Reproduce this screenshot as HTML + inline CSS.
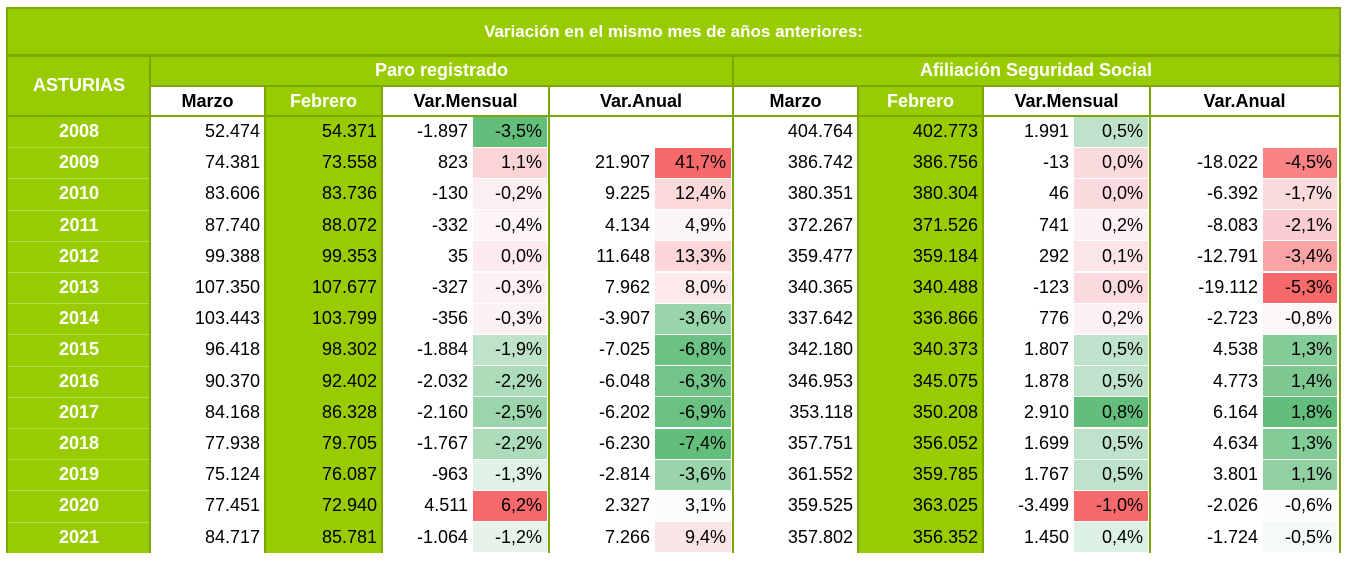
<!DOCTYPE html>
<html><head><meta charset="utf-8">
<style>
body{margin:0;width:1352px;height:568px;background:#fff;overflow:hidden;font-family:"Liberation Sans",sans-serif;}
#t{position:absolute;left:0;top:0;width:1352px;height:568px;}
.c{position:absolute;box-sizing:border-box;display:flex;align-items:center;font-size:18px;white-space:nowrap;}
.r{justify-content:flex-end;padding-right:5px;color:#000;}
.h{justify-content:center;font-weight:bold;}
</style></head><body>
<div id="t"></div>
<script>
const years=[2008,2009,2010,2011,2012,2013,2014,2015,2016,2017,2018,2019,2020,2021];
const paroMarzo=["52.474","74.381","83.606","87.740","99.388","107.350","103.443","96.418","90.370","84.168","77.938","75.124","77.451","84.717"];
const paroFeb=["54.371","73.558","83.736","88.072","99.353","107.677","103.799","98.302","92.402","86.328","79.705","76.087","72.940","85.781"];
const paroVarM=["-1.897","823","-130","-332","35","-327","-356","-1.884","-2.032","-2.160","-1.767","-963","4.511","-1.064"];
const paroVarMPct=[-3.5,1.1,-0.2,-0.4,0.0,-0.3,-0.3,-1.9,-2.2,-2.5,-2.2,-1.3,6.2,-1.2];
const paroVarA=["","21.907","9.225","4.134","11.648","7.962","-3.907","-7.025","-6.048","-6.202","-6.230","-2.814","2.327","7.266"];
const paroVarAPct=[null,41.7,12.4,4.9,13.3,8.0,-3.6,-6.8,-6.3,-6.9,-7.4,-3.6,3.1,9.4];
const afMarzo=["404.764","386.742","380.351","372.267","359.477","340.365","337.642","342.180","346.953","353.118","357.751","361.552","359.525","357.802"];
const afFeb=["402.773","386.756","380.304","371.526","359.184","340.488","336.866","340.373","345.075","350.208","356.052","359.785","363.025","356.352"];
const afVarM=["1.991","-13","46","741","292","-123","776","1.807","1.878","2.910","1.699","1.767","-3.499","1.450"];
const afVarMPct=[0.5,0.0,0.0,0.2,0.1,0.0,0.2,0.5,0.5,0.8,0.5,0.5,-1.0,0.4];
const afVarA=["","-18.022","-6.392","-8.083","-12.791","-19.112","-2.723","4.538","4.773","6.164","4.634","3.801","-2.026","-1.724"];
const afVarAPct=[null,-4.5,-1.7,-2.1,-3.4,-5.3,-0.8,1.3,1.4,1.8,1.3,1.1,-0.6,-0.5];

const X=[8,150,265,382,473,549,655,733,858,983,1074,1150,1263,1339];
const GREEN="#99cc00",LINE="#7aa800";
const T=document.getElementById('t');
function cell(x,y,w,h,txt,cls,bg,color,name){
  const d=document.createElement('div');
  d.className='c '+cls;
  d.style.left=x+'px';d.style.top=y+'px';d.style.width=w+'px';d.style.height=h+'px';
  if(bg)d.style.background=bg;
  if(color)d.style.color=color;
  d.textContent=txt;
  
  
  T.appendChild(d);return d;
}
function line(x,y,w,h,c){
  const d=document.createElement('div');
  d.style.cssText='position:absolute;left:'+x+'px;top:'+y+'px;width:'+w+'px;height:'+h+'px;background:'+c;
  
  
  T.appendChild(d);
}
function mix(a,b,t){const p=s=>[1,3,5].map(i=>parseInt(s.substr(i,2),16));const A=p(a),B=p(b);return 'rgb('+A.map((v,i)=>Math.round(v+(B[i]-v)*t)).join(',')+')';}
function scale(arr,higherGood){
  const v=arr.filter(x=>x!==null).slice().sort((a,b)=>a-b);
  const mn=v[0],mx=v[v.length-1],md=(v[(v.length-1)>>1]+v[v.length>>1])/2;
  return arr.map(x=>{ if(x===null)return null;
    const good=higherGood?'#63be7b':'#f8696b',bad=higherGood?'#f8696b':'#63be7b';
    if(x>=md)return mix('#fcfcff',good,mx===md?0:(x-md)/(mx-md));
    return mix('#fcfcff',bad,(md-x)/(md-mn));});
}
function pct(v){return v===null?'':(v.toFixed(1).replace('.',','))+'%';}
const c1=scale(paroVarMPct,false),c2=scale(paroVarAPct,false),c3=scale(afVarMPct,true),c4=scale(afVarAPct,true);

cell(8,8,1331,47,'Variación en el mismo mes de años anteriores:','h',GREEN,'#fff','title-header').style.fontSize='17px';
cell(8,55,142,61,'ASTURIAS','h',GREEN,'#fff','region-header');
cell(150,55,583,31,'Paro registrado','h',GREEN,'#fff','paro-group-header');
cell(733,55,606,31,'Afiliación Seguridad Social','h',GREEN,'#fff','afiliacion-group-header');
const subs=[[1,2,'Marzo',0],[2,3,'Febrero',1],[3,5,'Var.Mensual',0],[5,7,'Var.Anual',0],[7,8,'Marzo',0],[8,9,'Febrero',1],[9,11,'Var.Mensual',0],[11,13,'Var.Anual',0]];
subs.forEach(s=>cell(X[s[0]],86,X[s[1]]-X[s[0]],30,s[2],'h',s[3]?GREEN:'#fff',s[3]?'#fff':'#000','subheader-'+s[2].toLowerCase().replace('.','-')));

const Y0=116,RH=31.2;
years.forEach((yr,i)=>{
  const y=Y0+i*RH,h=RH;
  cell(8,y,142,h,String(yr),'h',GREEN,'#fff','year-label');
  cell(X[1],y,X[2]-X[1],h,paroMarzo[i],'r',null,null,'paro-marzo-value');
  cell(X[2],y,X[3]-X[2],h,paroFeb[i],'r',GREEN,null,'paro-febrero-value');
  cell(X[3],y,X[4]-X[3],h,paroVarM[i],'r',null,null,'paro-var-mensual-value');
  cell(X[4],y+0.5,X[5]-X[4]-2,h-1,pct(paroVarMPct[i]),'r',c1[i],null,'paro-var-mensual-pct');
  cell(X[5],y,X[6]-X[5],h,paroVarA[i],'r',null,null,'paro-var-anual-value');
  cell(X[6],y+0.5,X[7]-X[6]-2,h-1,pct(paroVarAPct[i]),'r',c2[i],null,'paro-var-anual-pct');
  cell(X[7],y,X[8]-X[7],h,afMarzo[i],'r',null,null,'afiliacion-marzo-value');
  cell(X[8],y,X[9]-X[8],h,afFeb[i],'r',GREEN,null,'afiliacion-febrero-value');
  cell(X[9],y,X[10]-X[9],h,afVarM[i],'r',null,null,'afiliacion-var-mensual-value');
  cell(X[10],y+0.5,X[11]-X[10]-2,h-1,pct(afVarMPct[i]),'r',c3[i],null,'afiliacion-var-mensual-pct');
  cell(X[11],y,X[12]-X[11],h,afVarA[i],'r',null,null,'afiliacion-var-anual-value');
  cell(X[12],y+0.5,X[13]-X[12]-2,h-1,pct(afVarAPct[i]),'r',c4[i],null,'afiliacion-var-anual-pct');
  if(i>0)line(8,y,142,1,'#b8de50');
});
const yEnd=Y0+14*RH;
line(6,8,2,yEnd-8,LINE);line(1339,8,2,yEnd-8,LINE);line(6,7,1335,2,LINE);
line(8,54,1331,3,LINE);line(150,85,1189,2,LINE);line(150,115,1189,2,LINE);line(8,115,142,2,LINE);
[150,733].forEach(x=>line(x-1,55,2,yEnd-55,LINE));
[265,382,549,858,983,1150].forEach(x=>line(x-1,86,2,yEnd-86,LINE));
</script>
</body></html>
